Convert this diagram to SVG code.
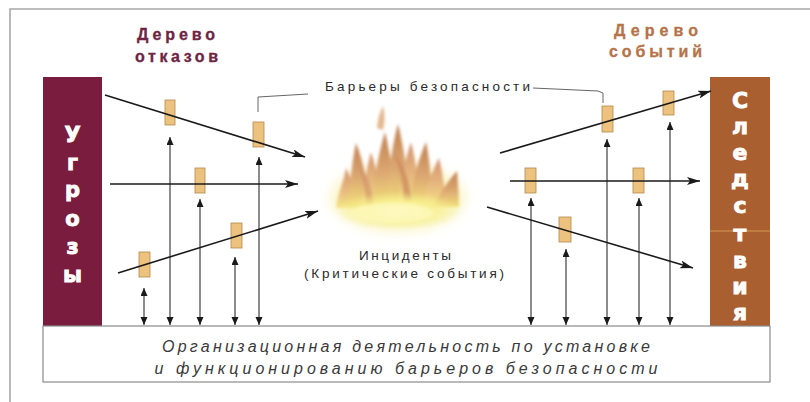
<svg xmlns="http://www.w3.org/2000/svg" width="810" height="402" viewBox="0 0 810 402">
  <defs>
    <style>
      .frame { fill: none; stroke: #a8a8a8; stroke-width: 1.6; }
      .box-letter { font-family: "DejaVu Sans", "Liberation Sans", Arial, sans-serif; font-weight: bold; fill: #ffffff; stroke: #ffffff; stroke-width: 0.9; text-anchor: middle; }
      .title { font-family: "Liberation Sans", Arial, sans-serif; font-weight: bold; font-size: 16px; stroke-width: 0.3; }
      .label { font-family: "Liberation Sans", Arial, sans-serif; font-size: 13.5px; fill: #2a2a2a; }
      .org { font-family: "Liberation Sans", Arial, sans-serif; font-style: italic; font-size: 16px; fill: #3a3a3a; text-anchor: middle; }
      .barrier { fill: #ecc27e; stroke: #b3894c; stroke-width: 0.8; }
      .flow { fill: none; stroke: #1a1a1a; stroke-width: 1.6; marker-end: url(#ah); }
      .link { fill: none; stroke: #1a1a1a; stroke-width: 1; marker-start: url(#ahs); marker-end: url(#ahs); }
      .leader { fill: none; stroke: #555555; stroke-width: 0.9; }
    </style>
    <marker id="ah" markerUnits="userSpaceOnUse" markerWidth="14" markerHeight="10" refX="13" refY="4" orient="auto">
      <path d="M0,0 L13,4 L0,8 L3,4 Z" fill="#1a1a1a"/>
    </marker>
    <marker id="ahs" markerUnits="userSpaceOnUse" markerWidth="9" markerHeight="8" refX="8" refY="3.5" orient="auto-start-reverse">
      <path d="M0,0 L8,3.5 L0,7 Z" fill="#1a1a1a"/>
    </marker>
    <filter id="soft" x="-20%" y="-20%" width="140%" height="140%">
      <feGaussianBlur stdDeviation="1.6"/>
    </filter>
    <filter id="haze" x="-30%" y="-30%" width="160%" height="160%">
      <feGaussianBlur stdDeviation="6"/>
    </filter>
    <linearGradient id="tongue" x1="0" y1="0" x2="0" y2="1">
      <stop offset="0" stop-color="#c08050"/>
      <stop offset="0.55" stop-color="#dca872"/>
      <stop offset="1" stop-color="#f2e07a"/>
    </linearGradient>
    <linearGradient id="tongue2" x1="0" y1="0" x2="0" y2="1">
      <stop offset="0" stop-color="#d49270"/>
      <stop offset="0.6" stop-color="#e8bc80"/>
      <stop offset="1" stop-color="#f6e682"/>
    </linearGradient>
    <radialGradient id="base" cx="0.5" cy="0.5" r="0.5">
      <stop offset="0" stop-color="#fffce6"/>
      <stop offset="0.5" stop-color="#f8f090"/>
      <stop offset="1" stop-color="#f6ee90" stop-opacity="0"/>
    </radialGradient>
  </defs>

  <rect x="0" y="0" width="810" height="402" fill="#ffffff"/>
  <!-- page frame -->
  <path class="frame" d="M10,402 L10,9 L810,9"/>

  <!-- threats column -->
  <g id="threats">
    <rect x="43" y="77" width="59" height="249" fill="#7a1c3d"/>
    <g class="box-letter" font-size="21">
      <text x="72.5" y="142">У</text>
      <text x="72.5" y="170">г</text>
      <text x="72.5" y="197">р</text>
      <text x="72.5" y="226">о</text>
      <text x="72.5" y="254">з</text>
      <text x="72.5" y="282">ы</text>
    </g>
  </g>

  <!-- consequences column -->
  <g id="consequences">
    <rect x="710" y="77" width="60" height="249" fill="#a95f30"/>
    <line x1="710" y1="231" x2="770" y2="231" stroke="#d69a50" stroke-width="1"/>
    <g class="box-letter" font-size="22">
      <text x="740" y="108">С</text>
      <text x="740" y="134">л</text>
      <text x="740" y="160">е</text>
      <text x="740" y="186">д</text>
      <text x="740" y="213">с</text>
      <text x="740" y="241">т</text>
      <text x="740" y="268">в</text>
      <text x="740" y="294">и</text>
      <text x="740" y="320">я</text>
    </g>
  </g>

  <!-- organisational activity band -->
  <g id="organisation">
    <rect x="43" y="326" width="727" height="56" fill="#ffffff" stroke="#8a8a8a" stroke-width="1.2"/>
    <text class="org" x="406" y="352" textLength="488" lengthAdjust="spacing">Организационная деятельность по установке</text>
    <text class="org" x="406" y="374" textLength="503" lengthAdjust="spacing">и функционированию  барьеров безопасности</text>
  </g>

  <!-- tree titles -->
  <g id="fault-tree-title" class="title" fill="#6e2442" stroke="#6e2442">
    <text x="137" y="40" textLength="78" lengthAdjust="spacing">Дерево</text>
    <text x="135" y="62" textLength="83" lengthAdjust="spacing">отказов</text>
  </g>
  <g id="event-tree-title" class="title" fill="#b5734a" stroke="#b5734a">
    <text x="614" y="36" textLength="84" lengthAdjust="spacing">Дерево</text>
    <text x="609" y="57" textLength="93" lengthAdjust="spacing">событий</text>
  </g>

  <!-- safety barriers caption with leaders -->
  <g id="barriers-caption">
    <text class="label" x="325" y="91" textLength="205" lengthAdjust="spacing">Барьеры безопасности</text>
    <path class="leader" d="M258,112 L258,97 L308,94"/>
    <path class="leader" d="M533,88 L598,91 L603,93 L603,103"/>
  </g>

  <!-- incident: fire -->
  <g id="incident">
    <g filter="url(#haze)" opacity="0.6">
      <ellipse cx="398" cy="198" rx="68" ry="34" fill="#f8f0a8"/>
    </g>
    <g filter="url(#soft)">
      <path d="M336,208 C338,192 344,182 346,168 C352,180 356,194 358,208 Z" fill="url(#tongue2)"/>
      <path d="M348,206 C350,182 352,162 356,143 C363,160 368,184 370,206 Z" fill="url(#tongue)"/>
      <path d="M362,206 C364,184 367,166 371,152 C376,168 381,188 383,206 Z" fill="url(#tongue2)"/>
      <path d="M372,206 C374,176 379,152 385,132 C390,154 395,180 396,206 Z" fill="url(#tongue)"/>
      <path d="M386,206 C388,172 393,142 398,124 C404,148 408,178 410,206 Z" fill="url(#tongue)"/>
      <path d="M398,206 C400,182 405,160 411,142 C416,162 419,184 420,206 Z" fill="url(#tongue2)"/>
      <path d="M410,206 C412,182 418,160 426,142 C430,162 432,186 432,206 Z" fill="url(#tongue)"/>
      <path d="M422,206 C425,188 432,172 439,158 C443,174 445,190 446,206 Z" fill="url(#tongue2)"/>
      <path d="M434,207 C438,196 447,182 457,171 C458,186 459,196 459,207 Z" fill="url(#tongue)"/>
      <path d="M404,206 C404,186 400,168 394,154 C404,164 410,180 412,206 Z" fill="#c98458" opacity="0.7"/>
      <path d="M366,206 C366,190 362,176 358,164 C366,172 372,186 374,206 Z" fill="#cf8a66" opacity="0.6"/>
      <path d="M377,128 C378,118 380,112 383,106 C385,114 385,122 383,130 Z" fill="#d8a068" opacity="0.75"/>
      <ellipse cx="398" cy="211" rx="63" ry="19" fill="url(#base)"/>
      <ellipse cx="392" cy="213" rx="42" ry="10" fill="#fdf8b8" opacity="0.85"/>
    </g>
    <text class="label" x="405" y="260" text-anchor="middle" textLength="92" lengthAdjust="spacing">Инциденты</text>
    <text class="label" x="404" y="278" text-anchor="middle" textLength="200" lengthAdjust="spacing">(Критические события)</text>
  </g>

  <!-- barriers on the threat side -->
  <g id="barriers-fault">
    <rect class="barrier" x="165" y="100" width="10" height="25"/>
    <rect class="barrier" x="253" y="122" width="11" height="25"/>
    <rect class="barrier" x="195" y="168" width="10" height="25"/>
    <rect class="barrier" x="139" y="252" width="11" height="25"/>
    <rect class="barrier" x="231" y="223" width="11" height="25"/>
  </g>

  <!-- barriers on the consequence side -->
  <g id="barriers-event">
    <rect class="barrier" x="602" y="106" width="11" height="26"/>
    <rect class="barrier" x="663" y="91" width="11" height="24"/>
    <rect class="barrier" x="525" y="168" width="11" height="25"/>
    <rect class="barrier" x="633" y="168" width="11" height="25"/>
    <rect class="barrier" x="559" y="217" width="12" height="25"/>
  </g>

  <!-- connectors -->
  <g id="connectors">
    <!-- threat scenarios towards the incident -->
    <line class="flow" x1="105" y1="95" x2="305" y2="157"/>
    <line class="flow" x1="110" y1="184" x2="298" y2="184"/>
    <line class="flow" x1="118" y1="273" x2="318" y2="211"/>
    <!-- incident towards consequences -->
    <line class="flow" x1="500" y1="153" x2="711" y2="91"/>
    <line class="flow" x1="510" y1="181" x2="700" y2="181"/>
    <line class="flow" x1="487" y1="207" x2="693" y2="268"/>
    <!-- organisational support of each barrier -->
    <line class="link" x1="144" y1="288" x2="144" y2="325"/>
    <line class="link" x1="170" y1="137" x2="170" y2="325"/>
    <line class="link" x1="200" y1="199" x2="200" y2="325"/>
    <line class="link" x1="235" y1="257" x2="235" y2="325"/>
    <line class="link" x1="259" y1="157" x2="259" y2="325"/>
    <line class="link" x1="531" y1="198" x2="531" y2="325"/>
    <line class="link" x1="566" y1="249" x2="566" y2="325"/>
    <line class="link" x1="607" y1="139" x2="607" y2="325"/>
    <line class="link" x1="639" y1="198" x2="639" y2="325"/>
    <line class="link" x1="670" y1="122" x2="670" y2="325"/>
  </g>
</svg>
